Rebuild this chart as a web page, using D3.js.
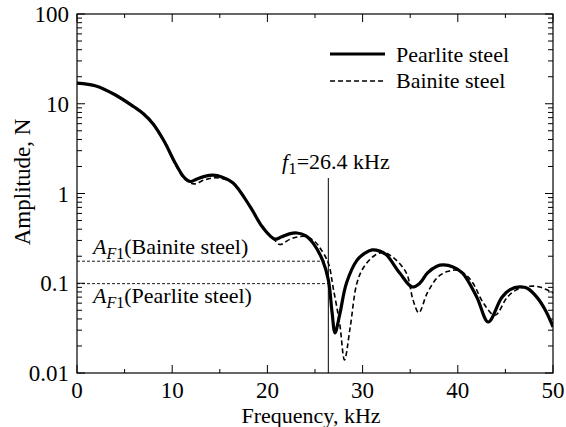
<!DOCTYPE html>
<html><head><meta charset="utf-8">
<script src="https://cdn.jsdelivr.net/npm/d3@7"></script>
<style>body{margin:0;background:#fff}svg{display:block}</style>
</head><body><svg id="c" width="566" height="427" font-family="'Liberation Serif', 'Times New Roman', Times, serif"></svg>
<script>
const pearliteF = [0,2,4,6,7,8,9.2,10.3,11.3,11.9,12.6,13.4,14.3,15.2,16.4,18.2,19.5,20.8,21.5,22.3,23.1,24.0,24.8,25.8,26.4,26.8,27.1,27.6,28.3,29.4,30.2,31.0,31.8,32.5,33.9,35.2,36.0,36.8,37.8,38.5,39.5,40.5,42.0,43.2,44.6,45.5,46.5,47.3,48.3,49.2,50];
const pearliteA = [17.0,15.8,12.6,9.2,7.7,5.95,3.75,2.2,1.49,1.36,1.45,1.55,1.6,1.53,1.31,0.71,0.42,0.31,0.33,0.355,0.363,0.34,0.28,0.18,0.109,0.0466,0.028,0.045,0.1,0.18,0.215,0.235,0.228,0.207,0.13,0.091,0.1,0.13,0.155,0.16,0.152,0.13,0.070,0.037,0.069,0.085,0.091,0.088,0.070,0.05,0.0326];
const bainiteF = [0,2,4,6,7,8,9.2,10.3,11.3,12.3,13.4,14.5,15.4,16.4,18.2,19.5,20.8,21.3,22.4,23.3,24.1,25.0,25.5,26.4,26.9,27.6,28.1,28.7,29.4,30.1,31.3,32.2,33.3,34.6,35.3,35.9,36.8,37.9,38.9,39.9,40.8,41.6,42.7,43.9,45.2,46.2,47.0,47.8,48.6,49.3,50];
const bainiteA = [17.0,15.8,12.6,9.3,7.8,6.05,3.8,2.15,1.45,1.28,1.42,1.5,1.45,1.3,0.72,0.43,0.3,0.27,0.31,0.33,0.33,0.29,0.25,0.168,0.09,0.035,0.014,0.0325,0.1,0.15,0.205,0.22,0.19,0.13,0.065,0.047,0.078,0.117,0.135,0.14,0.125,0.1,0.06,0.044,0.07,0.085,0.091,0.093,0.091,0.085,0.078];
const xTicks = [0,10,20,30,40,50];
const yTicks = [0.01,0.1,1,10,100];
const yTickLabels = ["0.01","0.1","1","10","100"];
const f1 = 26.4;
const afBainite = 0.176;
const afPearlite = 0.099;

const svg = d3.select("#c");
const L=77, R=553, T=14, B=373;
const x = d3.scaleLinear().domain([0,50]).range([L,R]);
const y = d3.scaleLog().domain([0.01,100]).range([B,T]);

svg.append("clipPath").attr("id","clp").append("rect").attr("x",L).attr("y",T).attr("width",R-L).attr("height",B-T);

svg.append("rect").attr("x",L).attr("y",T).attr("width",R-L).attr("height",B-T).attr("fill","none").attr("stroke","#000").attr("stroke-width",1.2);

const xAll = d3.range(0,51,5);
xAll.forEach(v=>{
  const len = v%10===0 ? 8 : 4;
  svg.append("line").attr("x1",x(v)).attr("x2",x(v)).attr("y1",B).attr("y2",B-len).attr("stroke","#000").attr("stroke-width",1);
  svg.append("line").attr("x1",x(v)).attr("x2",x(v)).attr("y1",T).attr("y2",T+len).attr("stroke","#000").attr("stroke-width",1);
});
const yMinor=[];
for (let d=-2; d<2; d++) for (let k=2;k<=9;k++) yMinor.push(k*Math.pow(10,d));
yMinor.forEach(v=>{
  svg.append("line").attr("x1",L).attr("x2",L+5).attr("y1",y(v)).attr("y2",y(v)).attr("stroke","#000").attr("stroke-width",1);
  svg.append("line").attr("x1",R).attr("x2",R-5).attr("y1",y(v)).attr("y2",y(v)).attr("stroke","#000").attr("stroke-width",1);
});
yTicks.forEach(v=>{
  svg.append("line").attr("x1",L).attr("x2",L+8).attr("y1",y(v)).attr("y2",y(v)).attr("stroke","#000").attr("stroke-width",1);
  svg.append("line").attr("x1",R).attr("x2",R-8).attr("y1",y(v)).attr("y2",y(v)).attr("stroke","#000").attr("stroke-width",1);
});
yTicks.forEach((v,i)=>{
  svg.append("text").attr("x",69).attr("y",y(v)+8).attr("text-anchor","end").attr("font-size",23).text(yTickLabels[i]);
});
xTicks.forEach(v=>{
  svg.append("text").attr("x",x(v)).attr("y",398).attr("text-anchor","middle").attr("font-size",23).text(v);
});
svg.append("text").attr("x",311).attr("y",423).attr("text-anchor","middle").attr("font-size",22).text("Frequency, kHz");
svg.append("text").attr("transform","translate(30,182) rotate(-90)").attr("text-anchor","middle").attr("font-size",23).text("Amplitude, N");

svg.append("line").attr("x1",x(f1)).attr("x2",x(f1)).attr("y1",178).attr("y2",B).attr("stroke","#000").attr("stroke-width",1);
svg.append("line").attr("x1",L).attr("x2",x(f1)).attr("y1",y(afBainite)).attr("y2",y(afBainite)).attr("stroke","#000").attr("stroke-width",0.9).attr("stroke-dasharray","3,2");
svg.append("line").attr("x1",L).attr("x2",x(f1)).attr("y1",y(afPearlite)).attr("y2",y(afPearlite)).attr("stroke","#000").attr("stroke-width",0.9).attr("stroke-dasharray","3,2");

const line = d3.line().x(d=>x(d[0])).y(d=>y(d[1])).curve(d3.curveCatmullRom.alpha(0.5));
const g = svg.append("g").attr("clip-path","url(#clp)");
g.append("path").datum(bainiteF.map((f,i)=>[f,bainiteA[i]])).attr("d",line).attr("fill","none").attr("stroke","#000").attr("stroke-width",1.6).attr("stroke-dasharray","5,3");
g.append("path").datum(pearliteF.map((f,i)=>[f,pearliteA[i]])).attr("d",line).attr("fill","none").attr("stroke","#000").attr("stroke-width",3.2);

svg.append("line").attr("x1",330).attr("x2",385).attr("y1",54).attr("y2",54).attr("stroke","#000").attr("stroke-width",3.2);
svg.append("line").attr("x1",330).attr("x2",385).attr("y1",81).attr("y2",81).attr("stroke","#000").attr("stroke-width",1.6).attr("stroke-dasharray","5,3");
svg.append("text").attr("x",396).attr("y",62).attr("font-size",22).text("Pearlite steel");
svg.append("text").attr("x",396).attr("y",88).attr("font-size",22).text("Bainite steel");

const t1 = svg.append("text").attr("x",282).attr("y",169).attr("font-size",22);
t1.append("tspan").attr("font-style","italic").text("f");
t1.append("tspan").attr("dy",5).attr("font-size",17).text("1");
t1.append("tspan").attr("dy",-5).text("=26.4 kHz");

function afLabel(yy, name){
  const t = svg.append("text").attr("x",93).attr("y",yy).attr("font-size",22);
  t.append("tspan").attr("font-style","italic").text("A");
  t.append("tspan").attr("dy",5).attr("font-size",16).attr("font-style","italic").text("F");
  t.append("tspan").attr("font-size",16).text("1");
  t.append("tspan").attr("dy",-5).text("(" + name + ")");
}
afLabel(254,"Bainite steel");
afLabel(303,"Pearlite steel");
</script></body></html>
